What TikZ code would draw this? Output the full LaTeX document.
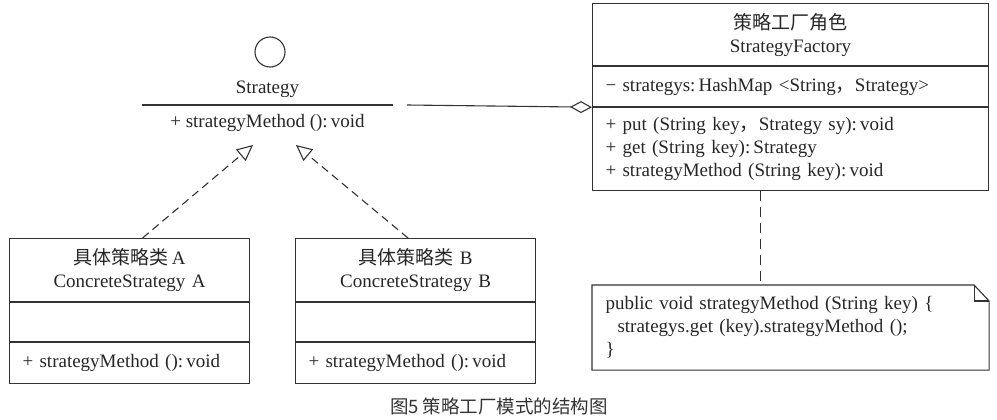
\documentclass[tikz,border=0pt]{standalone}
\usepackage{fontspec}
\setmainfont{Liberation Serif}
\newfontfamily\cjk{Noto Sans CJK SC}
\usetikzlibrary{arrows.meta, positioning}

\begin{document}
\begin{tikzpicture}[
    x=1pt, y=-1pt,
    every node/.style={font=\fontsize{19}{23}\selectfont, text=black!85},
    line/.style={draw=black!80, line width=1.1pt},
    compart/.style={line, inner xsep=13pt, inner ysep=0pt, align=left, minimum height=#1},
    wide/.style={minimum width=396pt, text width=370pt},
    narrow/.style={minimum width=240pt, text width=214pt},
    realize/.style={line, dash pattern=on 8pt off 5pt, -{Triangle[open, length=16pt, width=15pt]}},
    aggregate/.style={line, -{Diamond[open, length=22pt, width=12pt]}},
    notelink/.style={line, dash pattern=on 10pt off 6pt}
]
    \useasboundingbox (0,0) rectangle (997,420);

    \node[circle, line, minimum size=30pt, inner sep=0pt] (iface) at (270,52) {};
    \node[anchor=south, minimum width=251pt, inner ysep=7pt] (strategy) at (267.5,105) {Strategy};
    \draw[line] (strategy.south west) -- (strategy.south east);
    \node[below=0pt of strategy, inner ysep=9pt] (strategy-ops) {+ strategyMethod ():\,void};

    \node[compart=62, wide, align=center, anchor=north west] (fac-name) at (592,3) {{\cjk 策略工厂角色}\\StrategyFactory};
    \node[compart=40, wide, below=0pt of fac-name] (fac-attr) {− strategys:\,HashMap <String{\cjk ，}Strategy>};
    \node[compart=83, wide, below=0pt of fac-attr] (fac-ops) {+ put (String key{\cjk ，}Strategy sy):\,void\\+ get (String key):\,Strategy\\+ strategyMethod (String key):\,void};

    \node[compart=84, wide, draw=none, anchor=north west] (note) at (592,285) {public void strategyMethod (String key) \{\\\hspace*{12pt}strategys.get (key).strategyMethod ();\\\}};
    \draw[line] (note.north west) -- ([xshift=-15pt]note.north east) -- ([yshift=-16pt]note.north east) -- (note.south east) -- (note.south west) -- cycle;
    \draw[line] ([xshift=-15pt]note.north east) |- ([yshift=-16pt]note.north east);

    \node[compart=63, narrow, align=center, anchor=north west] (conc-a) at (9,238) {{\cjk 具体策略类}\,A\\ConcreteStrategy\ A};
    \node[compart=39, narrow, below=0pt of conc-a] (conc-a-attr) {};
    \node[compart=41, narrow, below=0pt of conc-a-attr] (conc-a-ops) {+ strategyMethod ():\,void};

    \node[compart=63, narrow, align=center, anchor=north west] (conc-b) at (295,238) {{\cjk 具体策略类}\ B\\ConcreteStrategy\ B};
    \node[compart=39, narrow, below=0pt of conc-b] (conc-b-attr) {};
    \node[compart=41, narrow, below=0pt of conc-b-attr] (conc-b-ops) {+ strategyMethod ():\,void};

    \coordinate (tip-a) at (253,145);
    \coordinate (tip-b) at (296,145);
    \coordinate (assoc) at (407,105);

    \draw[realize] ([xshift=13pt]conc-a.north) -- (tip-a);
    \draw[realize] ([xshift=-7.5pt]conc-b.north) -- (tip-b);
    \draw[aggregate] (assoc) -- (fac-attr.south west);
    \draw[notelink] ([xshift=-30pt]fac-ops.south) -- ([xshift=-30pt]note.north);

    \node[font=\cjk\fontsize{18.5}{22}\selectfont, text=black!80] (caption) at (499,406) {图5 策略工厂模式的结构图};
\end{tikzpicture}
\end{document}
